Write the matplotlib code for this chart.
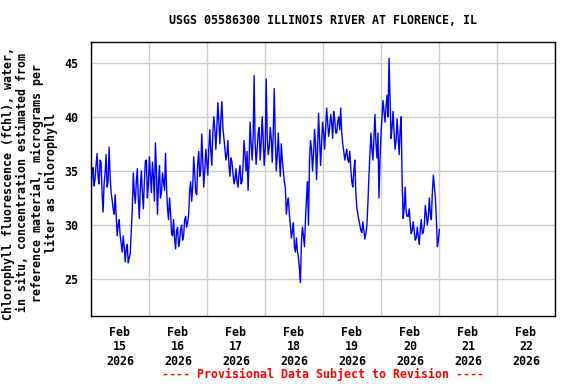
import numpy as np
import pandas as pd
import matplotlib
matplotlib.use("Agg")
import matplotlib.pyplot as plt
import matplotlib.dates as mdates

# chlorophyll readings from Feb 15 00:00, every 25 min
# (fchl = even readings, fchl_mid = the readings in between)
start_time = "2026-02-15 00:00"
step = "25min"
fchl = [
    33.0, 35.3, 34.2, 36.6, 33.8, 35.8, 31.2, 34.8, 33.5, 37.2,
    33.0, 31.5, 32.8, 29.0, 30.5, 28.3, 29.0, 26.6, 28.2, 27.0,
    29.5, 34.8, 32.0, 35.2, 30.6, 35.0, 31.5, 35.9, 32.5,
    36.3, 33.0, 34.5, 37.6, 31.0, 35.5, 33.0, 34.0, 36.6, 31.5,
    32.5, 29.2, 30.5, 27.8, 29.8, 28.5, 30.0, 29.0, 30.8, 30.2,
    33.2, 32.2, 36.3, 33.0, 35.8, 34.5, 38.4, 33.5, 37.0,
    34.6, 38.8, 35.5, 40.0, 37.0, 41.3, 37.5, 41.4, 38.0, 36.0,
    37.8, 34.5, 35.8, 33.8, 35.2, 33.5, 35.5, 34.0, 37.8, 35.0,
    33.2, 39.5, 36.0, 43.8, 35.6, 38.5, 36.0, 40.0, 35.5,
    43.5, 36.5, 39.0, 35.8, 42.6, 35.0, 38.5, 34.5, 36.0, 34.0,
    31.0, 32.5, 30.0, 29.4, 28.0, 28.8, 27.0, 24.7, 29.8, 28.0,
    32.5, 30.0, 37.8, 35.0, 38.8, 34.2, 40.3, 35.5, 39.5,
    37.0, 40.8, 38.2, 40.2, 38.0, 39.8, 38.5, 40.0, 40.8, 37.5,
    36.0, 37.0, 35.8, 35.2, 33.5, 36.0, 31.6, 30.5, 29.5, 30.3,
    28.7, 30.0, 34.5, 38.5, 36.0, 40.2, 36.2, 32.5, 38.5,
    41.5, 39.5, 42.0, 45.4, 38.0, 40.5, 37.0, 39.8, 36.5, 40.0,
    30.6, 33.5, 30.8, 31.5, 29.2, 30.3, 28.6, 29.8, 28.2, 30.5,
    29.3, 31.8, 30.0, 32.5, 30.5, 34.6, 32.5, 28.0, 29.6,
]
fchl_mid = [
    34.8, 33.6, 35.5, 34.5, 36.0, 33.0, 33.8, 36.5, 34.0, 34.5,
    32.3, 31.0, 30.8, 30.0, 29.0, 27.5, 28.0, 27.8, 26.5, 27.4,
    31.5, 33.0, 34.0, 32.5, 33.5, 33.0, 34.0, 36.0, 33.8,
    34.5, 35.8, 32.2, 35.0, 33.8, 32.5, 34.8, 33.2, 33.5, 30.5,
    31.2, 29.0, 28.8, 29.5, 28.0, 29.6, 28.6, 30.5, 29.8, 31.0,
    34.0, 33.5, 34.8, 32.8, 36.8, 35.0, 36.0, 35.0, 35.8,
    37.0, 36.8, 38.5, 38.8, 39.0, 39.5, 39.8, 39.0, 37.0, 36.5,
    35.5, 36.2, 34.8, 34.2, 34.0, 34.8, 33.8, 35.5, 36.5, 36.8,
    36.0, 37.5, 38.0, 37.5, 37.0, 39.0, 37.5, 38.0, 37.0,
    38.0, 37.2, 38.0, 38.5, 38.0, 36.5, 36.2, 37.5, 35.0, 33.5,
    32.0, 31.0, 28.8, 30.2, 27.5, 27.6, 26.0, 28.5, 29.0, 30.5,
    34.0, 36.0, 37.0, 36.5, 37.5, 37.0, 38.0, 37.5, 38.5,
    39.0, 39.5, 39.0, 39.5, 40.5, 38.5, 39.5, 38.8, 38.5, 36.8,
    36.5, 36.0, 36.8, 34.0, 35.0, 33.0, 31.0, 30.0, 29.3, 29.5,
    29.2, 32.0, 36.5, 37.0, 38.0, 37.5, 38.5, 36.0, 40.0,
    40.5, 41.0, 40.0, 41.5, 39.0, 38.5, 37.8, 38.2, 38.8, 34.0,
    31.5, 31.2, 30.8, 30.2, 29.5, 29.4, 28.8, 29.0, 29.6, 29.2,
    30.0, 31.0, 30.8, 31.0, 33.0, 33.5, 30.5, 28.6,
]
readings = np.empty(len(fchl) + len(fchl_mid))
readings[0::2] = fchl
readings[1::2] = fchl_mid
times = pd.date_range(start_time, periods=len(readings), freq=step)

y_ticks = [25, 30, 35, 40, 45]
title = "USGS 05586300 ILLINOIS RIVER AT FLORENCE, IL"
ylabel = ("Chlorophyll fluorescence (fChl), water,\n"
          "in situ, concentration estimated from\n"
          "reference material, micrograms per\n"
          "liter as chlorophyll")
footer = "---- Provisional Data Subject to Revision ----"

plt.rcParams['font.family'] = ['DejaVu Sans Mono']
plt.rcParams['font.weight'] = 'bold'
fs = 8.4

fig = plt.figure(figsize=(5.76, 3.84), dpi=100)
ax = fig.add_axes([91 / 576, 1 - 316 / 384, 464 / 576, 274 / 384])

ax.plot(times, readings, color="#0000ff", lw=1.0)

ax.set_xlim(pd.Timestamp("2026-02-15"), pd.Timestamp("2026-02-23"))
ax.set_ylim(21.6, 46.9)
ax.set_yticks(y_ticks)
ax.set_yticklabels([str(v) for v in y_ticks], fontsize=fs, fontweight='bold')

# grid at midnight, labels at noon
ax.xaxis.set_major_locator(mdates.DayLocator())
ax.xaxis.set_major_formatter(plt.NullFormatter())
ax.xaxis.set_minor_locator(mdates.HourLocator(byhour=[12]))
ax.xaxis.set_minor_formatter(mdates.DateFormatter("%b\n%d\n%Y"))
ax.tick_params(axis='x', which='both', length=0)
ax.tick_params(axis='x', which='minor', labelsize=fs, pad=7)
ax.tick_params(axis='y', length=0, pad=9)
for lab in ax.xaxis.get_minorticklabels():
    lab.set_fontweight('bold')
    lab.set_linespacing(1.15)

ax.grid(True, which='major', color="#cccccc", lw=1.0)
ax.set_axisbelow(True)
for sp in ax.spines.values():
    sp.set_linewidth(1.0)
    sp.set_color("black")

fig.text(323 / 576, 1 - 20 / 384, title, ha='center', va='center',
         fontsize=fs, fontweight='bold')
fig.text(30 / 576, 1 - 183 / 384, ylabel, ha='center', va='center',
         rotation=90, fontsize=fs, fontweight='bold', linespacing=1.15)
fig.text(323 / 576, 1 - 374 / 384, footer, ha='center', va='center',
         fontsize=fs, fontweight='bold', color="#ff0000")

fig.savefig("out.png", dpi=100)
